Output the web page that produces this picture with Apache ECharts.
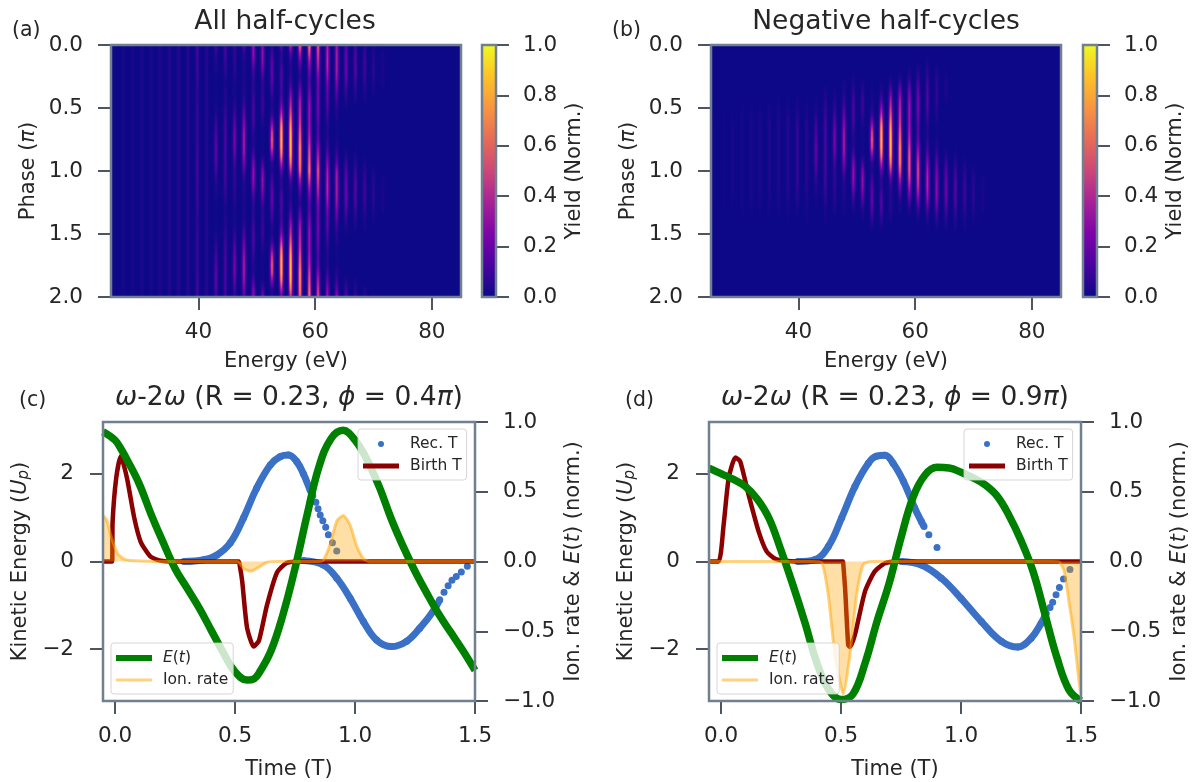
<!DOCTYPE html>
<html>
<head>
<meta charset="utf-8">
<title>Half-cycle yields</title>
<style>
html, body { margin: 0; padding: 0; background: #fff; }
#chart { width: 1193px; height: 782px; }
</style>
<script src="https://cdn.jsdelivr.net/npm/echarts@6/dist/echarts.min.js"></script>
</head>
<body>
<div id="chart"></div>
<script>
// Harmonic energies (eV), one per column of the yield tables
var harmonicEnergy = [25.5, 27.1, 28.7, 30.3, 31.9, 33.4, 35.0, 36.6, 38.2, 39.8, 41.4, 43.0, 44.6, 46.2, 47.8, 49.4, 51.0, 52.6, 54.2, 55.8, 57.4, 59.0, 60.5, 62.1, 63.7, 65.3, 66.9, 68.5, 70.0, 71.6];
// Phase of each table row, in units of pi
var phaseRows = [0, 0.0625, 0.125, 0.1875, 0.25, 0.3125, 0.375, 0.4375, 0.5, 0.5625, 0.625, 0.6875, 0.75, 0.8125, 0.875, 0.9375, 1, 1.0625, 1.125, 1.1875, 1.25, 1.3125, 1.375, 1.4375, 1.5, 1.5625, 1.625, 1.6875, 1.75, 1.8125, 1.875, 1.9375, 2];

// Yield in percent: one line per harmonic, one value per phase row
var allYield = [
    [1,1,1,1,1,1,1,1,1,1,1,1,1,1,1,1,1,1,1,1,1,1,1,1,1,1,1,1,1,1,1,1,1],
    [2,2,2,2,2,2,2,2,2,2,2,2,2,2,2,2,2,2,2,2,2,2,2,2,2,2,2,2,2,2,2,2,2],
    [2,2,2,2,2,2,2,2,2,2,2,2,2,2,2,2,2,2,2,2,2,2,2,2,2,2,2,2,2,2,2,2,2],
    [3,3,3,3,3,3,3,3,3,3,3,3,3,3,3,3,3,3,3,3,3,3,3,3,3,3,3,3,3,3,3,3,3],
    [3,3,3,3,3,3,3,3,3,3,3,3,3,3,3,3,3,3,3,3,3,3,3,3,3,3,3,3,3,3,3,3,3],
    [4,4,4,4,4,4,4,4,4,4,4,4,4,4,4,4,4,4,4,4,4,4,4,4,4,4,4,4,4,4,4,4,4],
    [5,5,5,5,5,5,5,5,5,5,5,5,5,5,5,5,5,5,5,5,5,5,5,5,5,5,5,5,5,5,5,5,5],
    [5,5,5,5,5,5,5,5,5,5,5,5,5,5,5,5,5,5,5,5,5,5,5,5,5,5,5,5,5,5,5,5,5],
    [6,6,6,6,6,6,6,6,6,6,6,6,6,6,6,6,6,6,6,6,6,6,6,6,6,6,6,6,6,6,6,6,6],
    [12,12,11,11,10,9,8,8,9,10,10,10,10,10,11,12,12,12,11,11,10,9,8,8,9,10,10,10,10,10,11,12,12],
    [5,5,5,5,5,5,5,5,5,5,5,5,5,5,5,5,5,5,5,5,5,5,5,5,5,5,5,5,5,5,5,5,5],
    [12,8,5,3,1,1,1,1,3,6,10,13,16,18,18,16,12,8,5,3,1,1,1,1,3,6,10,13,16,18,18,16,12],
    [12,12,10,8,5,3,5,5,8,10,12,13,13,13,13,13,12,12,10,8,5,3,5,5,8,10,12,13,13,13,13,13,12],
    [8,8,8,7,5,3,2,4,8,12,18,22,24,24,18,12,8,8,8,7,5,3,2,4,8,12,18,22,24,24,18,12,8],
    [16,8,5,4,3,5,4,8,14,22,30,36,38,38,34,26,16,8,5,4,3,5,4,8,14,22,30,36,38,38,34,26,16],
    [32,32,26,14,9,7,8,12,14,14,12,8,5,6,14,26,32,32,26,14,9,7,8,12,14,14,12,8,5,6,14,26,32],
    [26,32,30,22,12,8,8,10,10,7,4,2,1,2,3,12,26,32,30,22,12,8,8,10,10,7,4,2,1,2,3,12,26],
    [5,12,18,20,20,16,12,6,5,12,32,54,62,56,30,8,5,12,18,20,20,16,12,6,5,12,32,54,62,56,30,8,5],
    [20,8,8,14,16,14,13,17,30,50,75,88,90,88,72,44,20,8,8,14,16,14,13,17,30,50,75,88,90,88,72,44,20],
    [44,18,8,6,8,12,23,36,48,62,78,88,92,92,88,72,44,18,8,6,8,12,23,36,48,62,78,88,92,92,88,72,44],
    [70,42,24,12,7,15,26,38,44,48,54,64,72,80,80,78,70,42,24,12,7,15,26,38,44,48,54,64,72,80,80,78,70],
    [72,56,38,26,18,18,24,30,34,34,34,38,44,52,60,66,72,56,38,26,18,18,24,30,34,34,34,38,44,52,60,66,72],
    [60,54,46,38,28,24,23,24,24,22,18,16,20,30,40,50,60,54,46,38,28,24,23,24,24,22,18,16,20,30,40,50,60],
    [36,40,42,39,32,24,19,18,14,10,6,5,6,10,18,28,36,40,42,39,32,24,19,18,14,10,6,5,6,10,18,28,36],
    [35,38,38,38,34,26,18,11,6,4,2,1,3,5,10,18,35,38,38,38,34,26,18,11,6,4,2,1,3,5,10,18,35],
    [16,20,22,22,20,15,9,5,1,0,0,0,0,0,4,10,16,20,22,22,20,15,9,5,1,0,0,0,0,0,4,10,16],
    [10,14,16,16,14,10,6,3,0,0,0,0,0,0,2,5,10,14,16,16,14,10,6,3,0,0,0,0,0,0,2,5,10],
    [6,9,11,11,10,7,4,2,0,0,0,0,0,0,0,3,6,9,11,11,10,7,4,2,0,0,0,0,0,0,0,3,6],
    [3,5,6,7,6,4,2,0,0,0,0,0,0,0,0,0,3,5,6,7,6,4,2,0,0,0,0,0,0,0,0,0,3],
    [0,2,3,3,3,2,0,0,0,0,0,0,0,0,0,0,0,2,3,3,3,2,0,0,0,0,0,0,0,0,0,0,0]
];
var negYield = [
    [0,0,0,0,0,0,0,0,0,0,1,1,1,1,1,1,1,1,1,1,1,0,0,0,0,0,0,0,0,0,0,0,0],
    [0,0,0,0,0,0,0,0,0,1,1,1,1,1,1,1,1,1,1,1,1,0,0,0,0,0,0,0,0,0,0,0,0],
    [0,0,0,0,0,0,0,0,0,1,2,2,2,2,2,2,2,2,2,2,1,0,0,0,0,0,0,0,0,0,0,0,0],
    [0,0,0,0,0,0,0,0,1,2,2,2,2,2,2,2,2,2,2,2,2,1,0,0,0,0,0,0,0,0,0,0,0],
    [0,0,0,0,0,0,0,0,1,2,3,3,3,3,3,3,3,3,3,3,2,1,0,0,0,0,0,0,0,0,0,0,0],
    [0,0,0,0,0,0,0,0,1,2,3,3,3,3,3,3,3,3,3,3,2,1,0,0,0,0,0,0,0,0,0,0,0],
    [0,0,0,0,0,0,0,0,2,3,4,4,4,4,4,4,4,4,4,3,3,1,0,0,0,0,0,0,0,0,0,0,0],
    [0,0,0,0,0,0,0,1,2,3,4,4,4,4,4,4,4,4,4,3,3,2,1,0,0,0,0,0,0,0,0,0,0],
    [0,0,0,0,0,0,0,1,2,4,5,5,5,5,5,5,5,5,5,4,3,2,1,0,0,0,0,0,0,0,0,0,0],
    [0,0,0,0,0,0,0,1,3,5,8,9,9,9,9,9,9,9,8,6,4,2,1,0,0,0,0,0,0,0,0,0,0],
    [0,0,0,0,0,0,0,1,2,3,5,6,6,6,6,6,6,6,5,4,3,2,1,0,0,0,0,0,0,0,0,0,0],
    [0,0,0,0,0,0,0,1,3,6,10,13,16,18,18,16,12,8,5,3,1,0,0,0,0,0,0,0,0,0,0,0,0],
    [0,0,0,0,0,0,3,5,8,10,12,13,13,13,13,13,12,12,10,8,5,3,2,0,0,0,0,0,0,0,0,0,0],
    [0,0,0,0,0,0,2,4,8,12,18,22,24,24,18,12,8,8,8,7,5,3,0,0,0,0,0,0,0,0,0,0,0],
    [0,0,0,0,0,3,4,8,14,22,30,36,38,38,34,26,16,8,5,4,3,2,0,0,0,0,0,0,0,0,0,0,0],
    [0,0,0,0,2,4,8,12,14,14,12,8,5,6,14,26,32,32,26,14,7,3,0,0,0,0,0,0,0,0,0,0,0],
    [0,0,0,0,0,3,6,10,10,7,4,2,1,2,3,12,26,32,30,22,12,5,2,0,0,0,0,0,0,0,0,0,0],
    [0,0,0,0,0,0,2,3,5,12,32,54,62,56,30,8,5,12,18,20,20,16,10,3,0,0,0,0,0,0,0,0,0],
    [0,0,0,0,0,2,5,14,30,50,75,88,90,88,72,44,20,8,8,14,16,14,8,3,0,0,0,0,0,0,0,0,0],
    [0,0,0,0,2,6,20,36,48,62,78,88,92,92,88,72,44,18,8,6,6,6,3,0,0,0,0,0,0,0,0,0,0],
    [0,0,0,0,3,12,26,38,44,48,54,64,72,80,80,78,62,40,24,12,4,3,0,0,0,0,0,0,0,0,0,0,0],
    [0,0,0,2,6,14,24,30,34,34,34,38,44,52,60,62,60,52,38,24,12,4,0,0,0,0,0,0,0,0,0,0,0],
    [0,0,0,4,8,14,20,24,24,22,18,16,20,30,40,50,54,52,46,34,20,10,3,0,0,0,0,0,0,0,0,0,0],
    [0,0,2,5,8,12,14,16,14,10,6,5,6,10,18,28,36,40,40,34,24,12,5,2,0,0,0,0,0,0,0,0,0],
    [0,0,0,3,6,7,8,8,6,4,2,0,3,5,10,18,24,28,30,30,24,16,8,3,0,0,0,0,0,0,0,0,0],
    [0,0,0,0,2,3,3,2,0,0,0,0,0,0,4,10,16,20,22,22,18,12,6,3,0,0,0,0,0,0,0,0,0],
    [0,0,0,0,0,0,0,0,0,0,0,0,0,0,2,5,10,14,16,16,14,10,6,3,0,0,0,0,0,0,0,0,0],
    [0,0,0,0,0,0,0,0,0,0,0,0,0,0,0,3,6,9,11,11,10,7,4,2,0,0,0,0,0,0,0,0,0],
    [0,0,0,0,0,0,0,0,0,0,0,0,0,0,0,0,3,5,6,7,6,4,2,0,0,0,0,0,0,0,0,0,0],
    [0,0,0,0,0,0,0,0,0,0,0,0,0,0,0,0,0,2,3,3,3,2,0,0,0,0,0,0,0,0,0,0,0]
];
// Cross-section of one harmonic line, in tenths of a harmonic spacing from its centre
var lineHeights = [1, 0.72, 0.3, 0.08, 0.01, 0];
var colorbarRange = [0, 1];

// Panel (c): electric field and ionisation rate share the right axis
var fieldTimeC = [-0.05, 0, 0.024, 0.05, 0.1, 0.15, 0.2, 0.25, 0.3, 0.35, 0.4, 0.45, 0.5, 0.55, 0.58, 0.6, 0.65, 0.7, 0.75, 0.8, 0.85, 0.9, 0.95, 1, 1.05, 1.1, 1.15, 1.2, 1.25, 1.3, 1.35, 1.4, 1.45, 1.5];
var fieldC = [0.93, 0.87, 0.81, 0.73, 0.56, 0.34, 0.14, -0.05, -0.19, -0.33, -0.49, -0.65, -0.79, -0.85, -0.84, -0.8, -0.64, -0.38, -0.05, 0.33, 0.68, 0.88, 0.94, 0.87, 0.73, 0.54, 0.31, 0.11, -0.07, -0.23, -0.38, -0.51, -0.64, -0.78];
var birthTimeC = [-0.05, -0.012, -0.01, 0.005, 0.024, 0.05, 0.08, 0.107, 0.148, 0.19, 0.25, 0.515, 0.52, 0.53, 0.55, 0.578, 0.6, 0.633, 0.675, 0.716, 0.78, 1.5];
var birthC = [0, 0, 0.9, 1.9, 2.4, 1.9, 1.0, 0.45, 0.11, 0.02, 0, 0, -0.1, -0.45, -1.5, -1.94, -1.8, -1.0, -0.25, -0.03, 0, 0];
var ionTimeC = [-0.05, -0.035, -0.018, 0.01, 0.037, 0.08, 0.2, 0.51, 0.536, 0.565, 0.6, 0.633, 0.68, 0.85, 0.868, 0.896, 0.924, 0.951, 0.98, 1.007, 1.035, 1.06, 1.5];
var ionC = [0.33, 0.3, 0.19, 0.06, 0.017, 0.005, 0, 0, -0.05, -0.07, -0.04, -0.005, 0, 0, 0.01, 0.12, 0.29, 0.33, 0.26, 0.11, 0.02, 0, 0];
var recTimeC = [0.287, 0.37, 0.425, 0.48, 0.536, 0.59, 0.647, 0.688, 0.723, 0.757, 0.785, 0.813, 0.824, 0.824, 0.837, 0.837, 0.846, 0.846, 0.855, 0.855, 0.866, 0.866, 0.878, 0.878, 0.889, 0.889, 0.906, 0.906, 0.924, 0.924, 0.785, 0.868, 0.924, 0.98, 1.035, 1.09, 1.152, 1.215, 1.27, 1.325, 1.353, 1.353, 1.371, 1.371, 1.388, 1.388, 1.404, 1.404, 1.422, 1.422, 1.443, 1.443, 1.468];
var recC = [0, 0.04, 0.15, 0.42, 1.0, 1.67, 2.2, 2.39, 2.43, 2.28, 2.0, 1.63, 1.5, null, 1.35, null, 1.2, null, 1.06, null, 0.93, null, 0.78, null, 0.61, null, 0.43, null, 0.24, null, 0.02, -0.08, -0.38, -0.84, -1.37, -1.79, -1.94, -1.82, -1.52, -1.14, -0.87, null, -0.7, null, -0.55, null, -0.43, null, -0.34, null, -0.24, null, -0.11];

// Panel (d)
var fieldTimeD = [-0.05, 0, 0.05, 0.1, 0.15, 0.2, 0.25, 0.3, 0.35, 0.4, 0.45, 0.5, 0.55, 0.6, 0.65, 0.7, 0.75, 0.8, 0.85, 0.9, 0.95, 1, 1.05, 1.1, 1.15, 1.2, 1.25, 1.3, 1.35, 1.4, 1.45, 1.5];
var fieldD = [0.67, 0.63, 0.59, 0.54, 0.45, 0.31, 0.08, -0.17, -0.44, -0.73, -0.92, -0.99, -0.95, -0.73, -0.43, -0.16, 0.17, 0.46, 0.62, 0.675, 0.67, 0.64, 0.6, 0.55, 0.47, 0.33, 0.15, -0.07, -0.38, -0.69, -0.92, -1];
var birthTimeD = [-0.05, -0.01, 0.011, 0.032, 0.06, 0.08, 0.115, 0.157, 0.19, 0.226, 0.267, 0.32, 0.508, 0.51, 0.517, 0.53, 0.537, 0.558, 0.6, 0.64, 0.683, 0.74, 1.5];
var birthD = [0, 0, 0.84, 1.9, 2.37, 2.28, 1.52, 0.68, 0.23, 0.06, 0.015, 0, 0, -0.1, -0.6, -1.9, -1.95, -1.67, -0.68, -0.23, -0.04, 0, 0];
var ionTimeD = [-0.05, 0.38, 0.42, 0.447, 0.475, 0.51, 0.537, 0.565, 0.593, 0.63, 1.38, 1.41, 1.43, 1.45, 1.472, 1.493, 1.5];
var ionD = [0, 0, -0.01, -0.24, -0.67, -0.95, -0.67, -0.24, -0.02, 0, 0, -0.005, -0.07, -0.29, -0.55, -0.88, -0.95];
var recTimeD = [0.32, 0.39, 0.447, 0.503, 0.558, 0.614, 0.648, 0.683, 0.717, 0.76, 0.807, 0.835, 0.846, 0.846, 0.866, 0.866, 0.9, 0.9, 0.752, 0.835, 0.918, 1.0, 1.085, 1.168, 1.237, 1.292, 1.334, 1.355, 1.355, 1.371, 1.371, 1.382, 1.382, 1.396, 1.396, 1.41, 1.41, 1.427, 1.427, 1.454];
var recD = [0, 0.04, 0.34, 1.0, 1.71, 2.24, 2.4, 2.42, 2.24, 1.83, 1.22, 0.91, 0.8, null, 0.61, null, 0.32, null, 0, -0.08, -0.38, -0.84, -1.37, -1.82, -1.95, -1.75, -1.41, -1.18, null, -1.05, null, -0.93, null, -0.76, null, -0.59, null, -0.4, null, -0.18];

var energyTicks = [40, 60, 80];
var phaseTicks = [0, 0.5, 1, 1.5, 2];
var timeTicks = [0, 0.5, 1, 1.5];
var kineticTicks = [-2, 0, 2];

var FONT = 'DejaVu Sans';
var INK = '#262626';
var SPINE = '#708090';
var TICK = '#4c5560';
var TICK_SIZE = 21.5;
var NAME_SIZE = 21;
var TITLE_SIZE = 26.5;
var LEGEND_SIZE = 15.5;
var PLASMA = [[0, [13, 8, 135]], [0.13, [75, 3, 161]], [0.25, [126, 3, 168]], [0.38, [168, 34, 150]], [0.5, [204, 71, 120]], [0.63, [231, 109, 86]], [0.75, [248, 149, 64]], [0.88, [253, 196, 39]], [1, [240, 249, 33]]];

/**
 * Look up a colour on the plasma colormap.
 * @param {number} v value from 0 to 1
 * @returns {string}
 */
function plasma(v) {
    var i = 0;
    while (i < PLASMA.length - 2 && v > PLASMA[i + 1][0]) i++;
    var a = PLASMA[i], b = PLASMA[i + 1];
    var f = Math.min(1, Math.max(0, (v - a[0]) / (b[0] - a[0])));
    return 'rgb(' + [0, 1, 2].map(function (c) {
        return Math.round(a[1][c] + (b[1][c] - a[1][c]) * f);
    }).join(',') + ')';
}

/**
 * Turn a yield table into [energy, phase, next phase, percent, next percent] cells.
 * @param {number[][]} table
 * @returns {number[][]}
 */
function yieldCells(table) {
    var cells = [];
    table.forEach(function (column, k) {
        for (var j = 0; j < column.length - 1; j++) {
            if (!column[j] && !column[j + 1]) continue;
            cells.push([harmonicEnergy[k], phaseRows[j], phaseRows[j + 1], column[j], column[j + 1]]);
        }
    });
    return cells;
}

/**
 * Height of the line cross-section at a distance from the line centre.
 * @param {number} offset distance in harmonic spacings
 * @returns {number}
 */
function lineHeightAt(offset) {
    var pos = Math.abs(offset) * 10;
    var i = Math.floor(pos);
    if (i >= lineHeights.length - 1) return 0;
    return lineHeights[i] + (lineHeights[i + 1] - lineHeights[i]) * (pos - i);
}

// One harmonic over one phase step, painted column by column so it stays sharp
function renderYieldCell(params, api) {
    var energy = api.value(0);
    var a = api.coord([energy, api.value(1)]);
    var b = api.coord([energy, api.value(2)]);
    var spacing = api.size([1.59, 0])[0];
    var top = Math.round(a[1]);
    var height = Math.round(b[1]) - top;
    var children = [];
    for (var x = Math.floor(a[0] - spacing / 2); x < a[0] + spacing / 2; x++) {
        var h = lineHeightAt((x + 0.5 - a[0]) / spacing);
        var v0 = api.value(3) / 100 * h;
        var v1 = api.value(4) / 100 * h;
        if (Math.max(v0, v1) < 0.004) continue;
        children.push({
            type: 'rect',
            shape: { x: x, y: top, width: 1, height: height },
            style: {
                fill: new echarts.graphic.LinearGradient(0, 0, 0, 1, [
                    { offset: 0, color: plasma(v0) },
                    { offset: 0.5, color: plasma((v0 + v1) / 2) },
                    { offset: 1, color: plasma(v1) }
                ])
            }
        });
    }
    return { type: 'group', children: children };
}

function renderColorbar(params, api) {
    var a = api.coord([0, colorbarRange[1]]);
    var b = api.coord([1, colorbarRange[0]]);
    var stops = PLASMA.map(function (s) {
        return { offset: 1 - s[0], color: plasma(s[0]) };
    }).reverse();
    return {
        type: 'rect',
        shape: { x: a[0], y: a[1], width: b[0] - a[0], height: b[1] - a[1] },
        style: { fill: new echarts.graphic.LinearGradient(0, 0, 0, 1, stops) }
    };
}

function zip(xs, ys) {
    return xs.map(function (x, i) { return [x, ys[i]]; });
}

function minusLabel(digits) {
    return function (v) {
        return v.toFixed(digits).replace('-', '\u2212');
    };
}

var tickLabel = { color: INK, fontFamily: FONT, fontSize: TICK_SIZE };
var tickMark = { length: 13, lineStyle: { color: TICK, width: 2 } };
var nameStyle = {
    color: INK, fontFamily: FONT, fontSize: NAME_SIZE,
    rich: {
        i: { color: INK, fontFamily: FONT, fontSize: NAME_SIZE, fontStyle: 'italic' },
        p: { color: INK, fontFamily: FONT, fontSize: 15, fontStyle: 'italic', verticalAlign: 'bottom', padding: [7, 0, 0, 0] }
    }
};

function axisBase(gridIndex, position, min, max, ticks, digits, margin) {
    return {
        type: 'value', gridIndex: gridIndex, position: position, min: min, max: max,
        splitLine: { show: false }, axisLine: { show: false, onZero: false },
        axisTick: Object.assign({ customValues: ticks }, tickMark),
        axisLabel: Object.assign({ customValues: ticks, formatter: minusLabel(digits), margin: margin }, tickLabel),
        nameLocation: 'middle', nameTextStyle: nameStyle
    };
}

var grids = [], xAxes = [], yAxes = [], series = [];

function addYieldPanel(left, barLeft, table) {
    // navy backdrop sits under the stripes, the spines of the real grid sit over them
    var back = grids.length;
    grids.push({ left: left, top: 45, width: 350, height: 252, show: true, backgroundColor: plasma(0), borderWidth: 0, z: 0 });
    xAxes.push({ type: 'value', gridIndex: back, min: 0, max: 1, show: false });
    yAxes.push({ type: 'value', gridIndex: back, min: 0, max: 1, show: false });

    var g = grids.length;
    var gy = yAxes.length;
    grids.push({ left: left, top: 45, width: 350, height: 252, show: true, borderColor: SPINE, borderWidth: 2.5, z: 5 });
    xAxes.push(Object.assign(axisBase(g, 'bottom', 25, 85, energyTicks, 0, 24), { name: 'Energy (eV)', nameGap: 54 }));
    var phaseAxis = axisBase(g, 'left', 0, 2, phaseTicks, 1, 28);
    phaseAxis.inverse = true;
    phaseAxis.name = 'Phase ({i|\u03c0})';
    phaseAxis.nameGap = 72;
    yAxes.push(phaseAxis);
    series.push({
        type: 'custom', xAxisIndex: g, yAxisIndex: gy, silent: true, clip: true, progressive: 0,
        data: yieldCells(table), encode: { x: 0, y: [1, 2] }, renderItem: renderYieldCell
    });

    var c = grids.length;
    var cy = yAxes.length;
    grids.push({ left: barLeft, top: 45, width: 14, height: 252, show: true, borderColor: SPINE, borderWidth: 2.5, z: 5 });
    xAxes.push({ type: 'value', gridIndex: c, min: 0, max: 1, show: false });
    var barAxis = axisBase(c, 'right', 0, 1, [0, 0.2, 0.4, 0.6, 0.8, 1], 1, 27);
    barAxis.name = 'Yield (Norm.)';
    barAxis.nameGap = 68;
    barAxis.nameRotate = 90;
    yAxes.push(barAxis);
    series.push({
        type: 'custom', xAxisIndex: c, yAxisIndex: cy, silent: true,
        data: [[0, colorbarRange[0]], [1, colorbarRange[1]]], encode: { x: 0, y: 1 },
        renderItem: function (params, api) {
            return params.dataIndex === 0 ? renderColorbar(params, api) : null;
        }
    });
}

function addTracePanel(left, rec, birth, field, ion) {
    var g = grids.length;
    grids.push({ left: left, top: 422, width: 372, height: 279, show: true, borderColor: SPINE, borderWidth: 2.5, z: 5 });
    xAxes.push(Object.assign(axisBase(g, 'bottom', -0.05, 1.5, timeTicks, 1, 24), { name: 'Time (T)', nameGap: 58 }));
    var kinetic = axisBase(g, 'left', -3.18, 3.18, kineticTicks, 0, 29);
    kinetic.name = 'Kinetic Energy ({i|U}{p|p})';
    kinetic.nameGap = 71;
    var left0 = yAxes.length;
    var right0 = left0 + 1;
    var norm = axisBase(g, 'right', -1, 1, [-1, -0.5, 0, 0.5, 1], 1, 28);
    norm.name = 'Ion. rate & {i|E}({i|t}) (norm.)';
    norm.nameGap = 88;
    norm.nameRotate = 90;
    yAxes.push(kinetic, norm);

    series.push({
        name: 'Rec. T', type: 'line', xAxisIndex: g, yAxisIndex: left0, data: rec, smooth: 0.4,
        symbol: 'circle', symbolSize: 7, showSymbol: true, showAllSymbol: true, connectNulls: false,
        itemStyle: { color: '#3a70c5' }, lineStyle: { color: '#3a70c5', width: 7 }, z: 2
    }, {
        name: 'Birth T', type: 'line', xAxisIndex: g, yAxisIndex: left0, data: birth, smooth: 0.2,
        showSymbol: false, itemStyle: { color: '#8b0000' }, lineStyle: { color: '#8b0000', width: 4.5 }, z: 3
    }, {
        name: 'E(t)', type: 'line', xAxisIndex: g, yAxisIndex: right0, data: field, smooth: 0.4,
        showSymbol: false, itemStyle: { color: '#008000' }, lineStyle: { color: '#008000', width: 7.5 }, z: 4
    }, {
        name: 'Ion. rate', type: 'line', xAxisIndex: g, yAxisIndex: right0, data: ion, smooth: 0.2,
        showSymbol: false, itemStyle: { color: 'rgba(255,165,0,0.5)' },
        lineStyle: { color: 'rgba(255,165,0,0.5)', width: 3 },
        areaStyle: { color: 'rgba(255,165,0,0.5)' }, z: 4
    });
}

addYieldPanel(111, 482, allYield);
addYieldPanel(711, 1083, negYield);
addTracePanel(103, zip(recTimeC, recC), zip(birthTimeC, birthC), zip(fieldTimeC, fieldC), zip(ionTimeC, ionC));
addTracePanel(709, zip(recTimeD, recD), zip(birthTimeD, birthD), zip(fieldTimeD, fieldD), zip(ionTimeD, ionD));

function legendBox(pos, names) {
    return Object.assign({
        data: names, orient: 'vertical', itemWidth: 36, itemHeight: 6, itemGap: 6,
        padding: [7, 5, 6, 5], backgroundColor: 'rgba(255,255,255,0.8)', borderColor: 'rgba(204,204,204,0.8)',
        borderWidth: 1, borderRadius: 3, z: 6, selectedMode: false,
        textStyle: {
            color: INK, fontFamily: FONT, fontSize: LEGEND_SIZE, padding: [0, 0, 0, 6],
            rich: { i: { color: INK, fontFamily: FONT, fontSize: LEGEND_SIZE, fontStyle: 'italic' } }
        },
        formatter: function (name) { return name === 'E(t)' ? '{i|E}({i|t})' : name; }
    }, pos);
}
var topNames = [{ name: 'Rec. T', icon: 'circle' }, { name: 'Birth T', icon: 'path://M0 0H36V5H0Z' }];
var bottomNames = [{ name: 'E(t)', icon: 'rect' }, { name: 'Ion. rate', icon: 'path://M0 0H36V3H0Z' }];

function titleAt(left, top, text, size, align) {
    return {
        text: text, left: left, top: top, textAlign: align, padding: 0,
        textStyle: {
            color: INK, fontFamily: FONT, fontSize: size, fontWeight: 'normal',
            rich: { i: { color: INK, fontFamily: FONT, fontSize: size, fontStyle: 'italic' } }
        }
    };
}

var chart = echarts.init(document.getElementById('chart'), null, { renderer: 'canvas' });
chart.setOption({
    animation: false,
    backgroundColor: '#fff',
    title: [
        titleAt(285, 9, 'All half-cycles', TITLE_SIZE, 'center'),
        titleAt(886, 9, 'Negative half-cycles', TITLE_SIZE, 'center'),
        titleAt(289, 385, '{i|\u03c9}-2{i|\u03c9} (R = 0.23, {i|\u03d5} = 0.4{i|\u03c0})', TITLE_SIZE, 'center'),
        titleAt(895, 385, '{i|\u03c9}-2{i|\u03c9} (R = 0.23, {i|\u03d5} = 0.9{i|\u03c0})', TITLE_SIZE, 'center'),
        titleAt(12, 20, '(a)', 20.5, 'left'),
        titleAt(612, 20, '(b)', 20.5, 'left'),
        titleAt(19, 390, '(c)', 20.5, 'left'),
        titleAt(625, 390, '(d)', 20.5, 'left')
    ],
    legend: [
        legendBox({ left: 358, top: 429 }, topNames),
        legendBox({ left: 111, top: 643 }, bottomNames),
        legendBox({ left: 964, top: 429 }, topNames),
        legendBox({ left: 717, top: 643 }, bottomNames)
    ],
    grid: grids,
    xAxis: xAxes,
    yAxis: yAxes,
    series: series
});
</script>
</body>
</html>
